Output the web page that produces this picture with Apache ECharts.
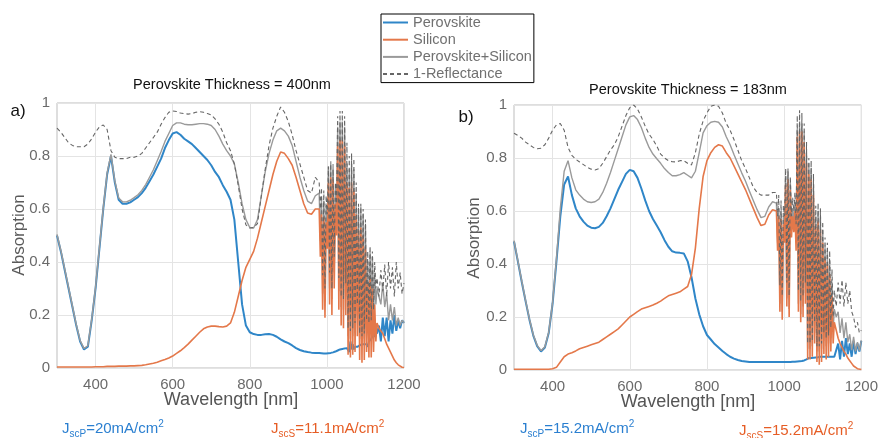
<!DOCTYPE html>
<html>
<head>
<meta charset="utf-8">
<script src="https://cdn.jsdelivr.net/npm/echarts@6/dist/echarts.min.js"></script>
<style>
html,body{margin:0;padding:0;background:#fff;}
#chart{width:881px;height:438px;}
</style>
</head>
<body>
<div id="chart"></div>
<script>
// ---------------- DATA ----------------
const wavelength = [
300,310,320,330,340,350,360,370,380,390,
400,410,420,430,440,450,460,470,480,490,
500,510,520,530,540,550,560,570,580,590,
600,610,620,630,640,650,660,670,680,690,
700,710,720,730,740,750,760,770,780,790,
800,810,820,830,840,850,860,870,880,890,
900,910,920,930,940,950,960,970,
980,983,986,989,992,995,998,1001,1004,1007,
1010,1013,1016,1019,1022,1025,1028,1031,1034,1037,
1040,1043,1046,1049,1052,1055,1058,1061,1064,1067,
1070,1073,1076,1079,1082,1085,1088,1091,1094,1097,
1100,1103,1106,1109,1112,1115,1118,1121,1124,1127,
1130,
1135,1140,1145,1150,1155,1160,1165,1170,1175,1180,1185,1190,1195,1200
];

// (a) Perovskite thickness = 400 nm
const perovskiteA = [
0.50,0.44,0.37,0.30,0.23,0.16,0.10,0.07,0.08,0.18,
0.30,0.45,0.60,0.73,0.80,0.70,0.635,0.62,0.62,0.625,
0.635,0.645,0.66,0.68,0.705,0.73,0.76,0.79,0.83,0.86,
0.885,0.89,0.88,0.865,0.855,0.845,0.83,0.815,0.80,0.785,
0.765,0.74,0.72,0.69,0.665,0.635,0.56,0.40,0.24,0.16,
0.135,0.128,0.125,0.125,0.127,0.128,0.125,0.118,0.108,0.10,
0.094,0.085,0.075,0.068,0.063,0.06,0.058,0.057,
0.057,0.056,0.056,0.056,0.055,0.055,0.055,0.055,0.056,0.056,
0.057,0.058,0.059,0.06,0.062,0.064,0.066,0.068,0.07,0.07,
0.072,0.073,0.074,0.075,0.075,0.07,0.06,0.10,0.07,0.09,
0.07,0.08,0.075,0.08,0.08,0.085,0.08,0.09,0.085,0.09,
0.09,0.09,0.08,0.10,0.10,0.11,0.12,0.12,0.12,0.14,
0.13,
0.16,0.10,0.19,0.12,0.19,0.10,0.18,0.13,0.20,0.14,0.18,0.15,0.18,0.17
];
const siliconA = [
0.004,0.004,0.004,0.004,0.004,0.004,0.004,0.004,0.004,0.004,
0.005,0.005,0.005,0.006,0.006,0.006,0.007,0.007,0.007,0.008,
0.008,0.009,0.01,0.012,0.015,0.018,0.022,0.027,0.032,0.038,
0.045,0.055,0.065,0.077,0.09,0.105,0.12,0.135,0.148,0.155,
0.158,0.158,0.156,0.155,0.158,0.17,0.21,0.27,0.33,0.38,
0.41,0.44,0.49,0.55,0.61,0.67,0.73,0.78,0.815,0.81,
0.79,0.765,0.72,0.67,0.62,0.585,0.58,0.60,
0.60,0.42,0.58,0.22,0.57,0.19,0.55,0.45,0.70,0.24,
0.72,0.20,0.71,0.30,0.62,0.50,0.84,0.22,0.86,0.16,
0.86,0.15,0.84,0.20,0.70,0.05,0.68,0.04,0.70,0.05,
0.67,0.06,0.58,0.12,0.52,0.03,0.53,0.02,0.50,0.03,
0.45,0.06,0.32,0.04,0.34,0.04,0.30,0.06,0.24,0.10,
0.17,
0.15,0.14,0.13,0.11,0.09,0.075,0.06,0.045,0.03,0.02,0.012,0.006,0.003,0.002
];
const tandemA = [
0.504,0.444,0.374,0.304,0.234,0.164,0.104,0.074,0.084,0.185,
0.305,0.455,0.605,0.736,0.806,0.706,0.642,0.627,0.627,0.633,
0.643,0.654,0.67,0.692,0.72,0.748,0.782,0.817,0.855,0.885,
0.915,0.925,0.925,0.92,0.918,0.918,0.92,0.922,0.922,0.92,
0.915,0.90,0.875,0.845,0.82,0.80,0.77,0.70,0.62,0.56,
0.53,0.528,0.56,0.65,0.74,0.81,0.86,0.895,0.905,0.895,
0.875,0.84,0.78,0.72,0.67,0.63,0.62,0.65,
0.66,0.48,0.64,0.28,0.63,0.25,0.61,0.51,0.76,0.30,
0.78,0.26,0.77,0.36,0.68,0.56,0.91,0.29,0.93,0.23,
0.93,0.22,0.91,0.27,0.77,0.12,0.75,0.11,0.77,0.12,
0.75,0.13,0.66,0.20,0.60,0.11,0.61,0.10,0.58,0.11,
0.54,0.15,0.40,0.14,0.44,0.15,0.42,0.18,0.36,0.24,
0.30,
0.30,0.24,0.32,0.23,0.28,0.18,0.24,0.18,0.23,0.16,0.19,0.16,0.18,0.17
];
const reflectA = [
0.905,0.89,0.87,0.85,0.84,0.835,0.835,0.835,0.845,0.865,
0.89,0.91,0.917,0.90,0.82,0.795,0.79,0.79,0.79,0.795,
0.795,0.80,0.81,0.83,0.85,0.87,0.89,0.92,0.945,0.965,
0.97,0.968,0.962,0.96,0.958,0.96,0.965,0.967,0.965,0.96,
0.955,0.94,0.92,0.89,0.85,0.82,0.77,0.69,0.60,0.54,
0.528,0.53,0.545,0.65,0.75,0.84,0.905,0.95,0.985,0.965,
0.93,0.88,0.82,0.77,0.72,0.67,0.66,0.72,
0.70,0.60,0.68,0.35,0.67,0.30,0.65,0.58,0.76,0.36,
0.77,0.30,0.75,0.42,0.70,0.62,0.95,0.34,0.97,0.27,
0.97,0.26,0.95,0.32,0.85,0.15,0.80,0.14,0.81,0.15,
0.79,0.17,0.70,0.24,0.62,0.13,0.62,0.12,0.60,0.13,
0.56,0.18,0.44,0.17,0.46,0.18,0.44,0.22,0.40,0.30,
0.34,
0.27,0.37,0.29,0.39,0.27,0.40,0.30,0.38,0.27,0.40,0.30,0.36,0.28,0.32
];

// (b) Perovskite thickness = 183 nm
const perovskiteB = [
0.485,0.41,0.333,0.26,0.19,0.13,0.09,0.07,0.085,0.14,
0.25,0.41,0.58,0.70,0.73,0.66,0.61,0.58,0.56,0.545,
0.537,0.535,0.54,0.555,0.58,0.61,0.645,0.68,0.71,0.74,
0.755,0.75,0.725,0.685,0.64,0.60,0.57,0.545,0.52,0.49,
0.465,0.448,0.443,0.442,0.44,0.41,0.35,0.27,0.21,0.165,
0.132,0.115,0.098,0.085,0.072,0.06,0.05,0.043,0.038,0.034,
0.032,0.03,0.03,0.03,0.03,0.03,0.03,0.03,
0.03,0.03,0.03,0.03,0.03,0.03,0.03,0.03,0.03,0.03,
0.03,0.03,0.03,0.03,0.031,0.031,0.031,0.032,0.032,0.032,
0.033,0.033,0.034,0.035,0.036,0.038,0.04,0.045,0.045,0.045,
0.045,0.045,0.046,0.046,0.047,0.047,0.048,0.048,0.05,0.05,
0.05,0.05,0.05,0.05,0.05,0.05,0.05,0.05,0.05,0.05,
0.05,
0.05,0.10,0.04,0.11,0.05,0.12,0.06,0.10,0.05,0.11,0.06,0.10,0.07,0.11
];
const siliconB = [
0.003,0.003,0.003,0.003,0.003,0.003,0.003,0.003,0.003,0.003,
0.005,0.01,0.03,0.05,0.06,0.065,0.072,0.08,0.085,0.09,
0.095,0.10,0.105,0.115,0.125,0.135,0.145,0.155,0.17,0.185,
0.20,0.21,0.22,0.23,0.235,0.24,0.245,0.252,0.26,0.27,
0.28,0.285,0.29,0.295,0.305,0.315,0.36,0.46,0.61,0.73,
0.79,0.82,0.84,0.85,0.845,0.82,0.80,0.77,0.74,0.71,
0.68,0.645,0.61,0.575,0.545,0.55,0.585,0.605,
0.60,0.45,0.58,0.22,0.57,0.19,0.55,0.48,0.70,0.24,
0.72,0.20,0.68,0.50,0.58,0.52,0.60,0.45,0.88,0.22,
0.90,0.18,0.90,0.20,0.86,0.25,0.78,0.04,0.74,0.04,
0.72,0.05,0.66,0.10,0.54,0.03,0.56,0.02,0.53,0.03,
0.48,0.06,0.42,0.04,0.40,0.05,0.36,0.07,0.28,0.10,
0.18,
0.15,0.12,0.10,0.085,0.07,0.06,0.045,0.035,0.025,0.015,0.01,0.005,0.003,0.002
];
const tandemB = [
0.488,0.413,0.336,0.263,0.193,0.133,0.093,0.073,0.088,0.143,
0.255,0.42,0.61,0.75,0.79,0.725,0.68,0.66,0.645,0.635,
0.632,0.635,0.645,0.67,0.705,0.745,0.79,0.835,0.88,0.925,
0.955,0.96,0.945,0.915,0.875,0.84,0.815,0.797,0.78,0.76,
0.745,0.733,0.733,0.737,0.745,0.735,0.725,0.75,0.82,0.895,
0.922,0.935,0.938,0.935,0.917,0.88,0.85,0.813,0.778,0.744,
0.712,0.675,0.64,0.605,0.575,0.58,0.615,0.635,
0.63,0.48,0.61,0.25,0.60,0.22,0.58,0.51,0.73,0.27,
0.75,0.23,0.71,0.53,0.61,0.55,0.63,0.48,0.91,0.25,
0.93,0.21,0.93,0.24,0.90,0.29,0.82,0.08,0.78,0.08,
0.76,0.09,0.70,0.14,0.58,0.07,0.60,0.07,0.58,0.08,
0.53,0.11,0.47,0.09,0.45,0.10,0.41,0.12,0.33,0.15,
0.23,
0.20,0.22,0.14,0.195,0.12,0.18,0.105,0.135,0.075,0.125,0.07,0.105,0.073,0.112
];
const reflectB = [
0.893,0.885,0.875,0.86,0.85,0.84,0.835,0.837,0.85,0.875,
0.905,0.925,0.93,0.905,0.84,0.81,0.795,0.785,0.775,0.765,
0.758,0.755,0.76,0.78,0.805,0.83,0.85,0.88,0.92,0.96,
0.99,1.0,0.985,0.955,0.92,0.89,0.87,0.845,0.815,0.80,
0.79,0.786,0.785,0.79,0.79,0.78,0.774,0.82,0.89,0.94,
0.97,0.995,1.0,0.995,0.97,0.93,0.905,0.87,0.83,0.79,
0.76,0.725,0.69,0.67,0.66,0.66,0.66,0.67,
0.67,0.58,0.66,0.32,0.64,0.28,0.62,0.58,0.76,0.33,
0.76,0.28,0.73,0.58,0.65,0.60,0.67,0.55,0.96,0.30,
0.98,0.26,0.97,0.28,0.93,0.33,0.86,0.10,0.80,0.10,
0.79,0.11,0.74,0.18,0.62,0.09,0.63,0.09,0.61,0.10,
0.56,0.14,0.50,0.12,0.48,0.13,0.45,0.16,0.38,0.20,
0.30,
0.24,0.33,0.25,0.34,0.24,0.33,0.25,0.30,0.22,0.20,0.16,0.18,0.14,0.15
];

const seriesNames = ['Perovskite', 'Silicon', 'Perovskite+Silicon', '1-Reflectance'];
const xTickLabels = [400, 600, 800, 1000, 1200];
const panelTitles = ['Perovskite Thickness = 400nm', 'Perovskite Thickness = 183nm'];
const panelLetters = ['a)', 'b)'];
const jscPerovskite = ['20', '15.2'];
const jscSilicon = ['11.1', '15.2'];

// ---------------- STYLE ----------------
const FONT = '"Liberation Sans", Arial, Helvetica, sans-serif';
const colors = {
  per: '#2f86c8',
  si: '#e4784a',
  tan: '#9a9a9a',
  ref: '#666666',
  jBlue: '#2a7fd0',
  jOrange: '#e65d25'
};
const grids = [
  {left: 57, top: 103, width: 347, height: 265},
  {left: 514, top: 105, width: 349, height: 265}
];

function pairs(vals) {
  return wavelength.map((w, i) => [w, vals[i]]);
}
[perovskiteA, siliconA, tandemA, reflectA, perovskiteB, siliconB, tandemB, reflectB].forEach((a, k) => {
  if (a.length !== wavelength.length) console.error('length mismatch', k, a.length, wavelength.length);
});

const chart = echarts.init(document.getElementById('chart'), null, {renderer: 'canvas'});

function makeSeries(gi, per, si, tan, ref) {
  const base = {type: 'line', xAxisIndex: gi, yAxisIndex: gi, symbol: 'none', showSymbol: false,
    animation: false, emphasis: {disabled: true}, silent: true};
  return [
    Object.assign({}, base, {name: seriesNames[0], data: pairs(per), z: 2,
      itemStyle: {color: colors.per}, lineStyle: {color: colors.per, width: 2}}),
    Object.assign({}, base, {name: seriesNames[1], data: pairs(si), z: 4,
      itemStyle: {color: colors.si}, lineStyle: {color: colors.si, width: 1.6}}),
    Object.assign({}, base, {name: seriesNames[2], data: pairs(tan), z: 3,
      itemStyle: {color: colors.tan}, lineStyle: {color: colors.tan, width: 1.4}}),
    Object.assign({}, base, {name: seriesNames[3], data: pairs(ref), z: 5,
      itemStyle: {color: colors.ref}, lineStyle: {color: colors.ref, width: 1.1, type: [4, 3]}})
  ];
}

function xAxisCfg(gi) {
  return {
    gridIndex: gi, type: 'value', min: 300, max: 1200, interval: 100,
    axisLine: {show: false}, axisTick: {show: false},
    splitLine: {show: true, lineStyle: {color: ['rgba(0,0,0,0)', '#e4e4e4'], width: 1}},
    axisLabel: {margin: 9, fontSize: 15, color: '#6a6a6a', fontFamily: FONT,
      formatter: v => xTickLabels.indexOf(Math.round(v)) >= 0 ? String(Math.round(v)) : ''}
  };
}
function yAxisCfg(gi) {
  return {
    gridIndex: gi, type: 'value', min: 0, max: 1, interval: 0.2,
    axisLine: {show: false}, axisTick: {show: false},
    splitLine: {show: true, lineStyle: {color: '#e4e4e4', width: 1}},
    axisLabel: {margin: 7, fontSize: 15, color: '#6a6a6a', fontFamily: FONT,
      formatter: v => String(Math.round(v * 10) / 10)}
  };
}

function jText(x, y, sub, val, color) {
  return {
    type: 'text', x: x, y: y, silent: true,
    style: {
      text: '{m|J}{s|' + sub + '}{m|=' + val + 'mA/cm}{p|2}',
      verticalAlign: 'middle',
      rich: {
        m: {fontSize: 15, lineHeight: 20, verticalAlign: 'middle', fill: color, color: color, fontFamily: FONT},
        s: {fontSize: 10, lineHeight: 10, verticalAlign: 'bottom', fill: color, color: color, fontFamily: FONT},
        p: {fontSize: 10, lineHeight: 10, verticalAlign: 'top', fill: color, color: color, fontFamily: FONT}
      }
    }
  };
}
function plainText(x, y, text, size, color, rot) {
  return {
    type: 'text', x: x, y: y, rotation: rot || 0, silent: true,
    style: {text: text, fontSize: size, fontFamily: FONT, fill: color, align: 'center', verticalAlign: 'middle'}
  };
}

const option = {
  backgroundColor: '#ffffff',
  animation: false,
  grid: grids.map(g => Object.assign({show: true, borderColor: '#bdbdbd', borderWidth: 1, backgroundColor: '#fff'}, g)),
  xAxis: [xAxisCfg(0), xAxisCfg(1)],
  yAxis: [yAxisCfg(0), yAxisCfg(1)],
  legend: {
    data: seriesNames, orient: 'vertical', left: 381, top: 14,
    itemWidth: 25, itemHeight: 14, itemGap: 2.2, itemTextGap: 0,
    padding: [1, 2, 1, 1], borderColor: '#000', borderWidth: 1, backgroundColor: '#fff',
    selectedMode: false,
    itemStyle: {opacity: 0},
    textStyle: {fontSize: 14.5, color: '#707070', fontFamily: FONT, lineHeight: 14}
  },
  graphic: [
    plainText(232, 85, panelTitles[0], 14.5, '#111'),
    plainText(688, 90, panelTitles[1], 14.5, '#111'),
    plainText(18, 111, panelLetters[0], 17, '#111'),
    plainText(466, 117, panelLetters[1], 17, '#111'),
    plainText(19, 235, 'Absorption', 17, '#5a5a5a', Math.PI / 2),
    plainText(474, 238, 'Absorption', 17, '#5a5a5a', Math.PI / 2),
    plainText(231, 400, 'Wavelength [nm]', 18, '#555'),
    plainText(688, 402, 'Wavelength [nm]', 18, '#555'),
    jText(62, 429, 'scP', jscPerovskite[0], colors.jBlue),
    jText(271, 429, 'scS', jscSilicon[0], colors.jOrange),
    jText(520, 429, 'scP', jscPerovskite[1], colors.jBlue),
    jText(739, 431, 'scS', jscSilicon[1], colors.jOrange)
  ],
  series: makeSeries(0, perovskiteA, siliconA, tandemA, reflectA)
    .concat(makeSeries(1, perovskiteB, siliconB, tandemB, reflectB))
};
chart.setOption(option);
</script>
</body>
</html>
